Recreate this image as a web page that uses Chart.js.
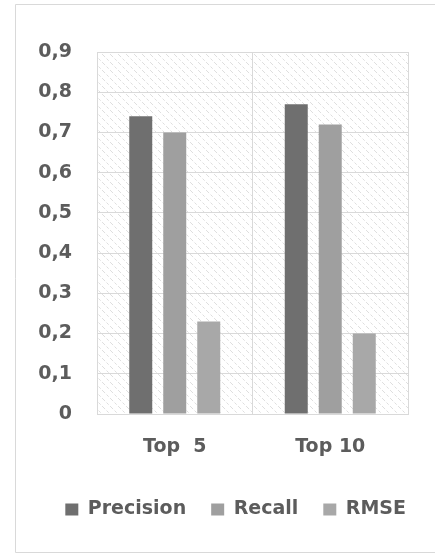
<!DOCTYPE html>
<html>
<head>
<meta charset="utf-8">
<script src="https://cdn.jsdelivr.net/npm/chart.js@4"></script>
<style>
  html, body { margin: 0; padding: 0; background: #fff; }
  #wrap { width: 435px; height: 554px; position: relative; }
</style>
</head>
<body>
<div id="wrap"><canvas id="c" width="435" height="554"></canvas></div>
<script>
const categories = ['Top  5', 'Top 10'];
const precision = [0.74, 0.77];
const recall = [0.70, 0.72];
const rmse = [0.23, 0.20];
const seriesNames = ['Precision', 'Recall', 'RMSE'];
const yTickLabels = ['0', '0,1', '0,2', '0,3', '0,4', '0,5', '0,6', '0,7', '0,8', '0,9'];

const FONT = "'DejaVu Sans', sans-serif";
const TEXT = '#5c5c5c';

const decor = {
  id: 'decor',
  afterLayout(chart) {
    // Excel places the legend row slightly right of centre
    chart.legend.left += 23;
    chart.legend.right += 23;
  },
  beforeDraw(chart) {
    const ctx = chart.ctx;
    const a = chart.chartArea;
    ctx.save();
    ctx.fillStyle = '#ffffff';
    ctx.fillRect(0, 0, chart.width, chart.height);
    ctx.strokeStyle = '#d9d9d9';
    ctx.lineWidth = 1;
    ctx.beginPath();
    ctx.moveTo(15.5, 552.5);
    ctx.lineTo(15.5, 4.5);
    ctx.lineTo(435, 4.5);
    ctx.moveTo(15.5, 552.5);
    ctx.lineTo(435, 552.5);
    ctx.stroke();
    const p = document.createElement('canvas');
    p.width = 8; p.height = 8;
    const pc = p.getContext('2d');
    pc.strokeStyle = '#dedede';
    pc.lineWidth = 1;
    pc.setLineDash([3, 2]);
    pc.beginPath();
    pc.moveTo(-1, -1);
    pc.lineTo(9, 9);
    pc.stroke();
    ctx.fillStyle = ctx.createPattern(p, 'repeat');
    ctx.fillRect(a.left, a.top, a.right - a.left, a.bottom - a.top);
    ctx.restore();
  }
};

new Chart(document.getElementById('c'), {
  type: 'bar',
  data: {
    labels: categories,
    datasets: [
      { label: seriesNames[0], data: precision, backgroundColor: '#6f6f6f' },
      { label: seriesNames[1], data: recall, backgroundColor: '#9f9f9f' },
      { label: seriesNames[2], data: rmse, backgroundColor: '#a8a8a8' }
    ]
  },
  options: {
    responsive: false,
    animation: false,
    devicePixelRatio: 1,
    layout: { padding: { left: 15, right: 27, top: 52, bottom: 25 } },
    datasets: { bar: { categoryPercentage: 0.656, barPercentage: 0.676 } },
    plugins: {
      legend: {
        position: 'bottom',
        align: 'end',
        labels: {
          boxWidth: 13, boxHeight: 12, padding: 25,
          color: TEXT,
          font: { family: FONT, size: 19, weight: 'bold' }
        }
      },
      tooltip: { enabled: false }
    },
    scales: {
      x: {
        offset: true,
        grid: { offset: true, color: '#d9d9d9', drawTicks: false },
        border: { color: '#d9d9d9' },
        ticks: { color: TEXT, padding: 22, font: { family: FONT, size: 19, weight: 'bold' } },
        afterFit(s) { s.height = 61; }
      },
      y: {
        min: 0, max: 0.9,
        ticks: {
          stepSize: 0.1, padding: 25, color: TEXT,
          font: { family: FONT, size: 19, weight: 'bold' },
          callback: (v, i) => yTickLabels[i]
        },
        grid: { color: '#d9d9d9', drawTicks: false },
        border: { color: '#d9d9d9' },
        afterFit(s) { s.width = 82; }
      }
    }
  },
  plugins: [decor]
});
</script>
</body>
</html>
